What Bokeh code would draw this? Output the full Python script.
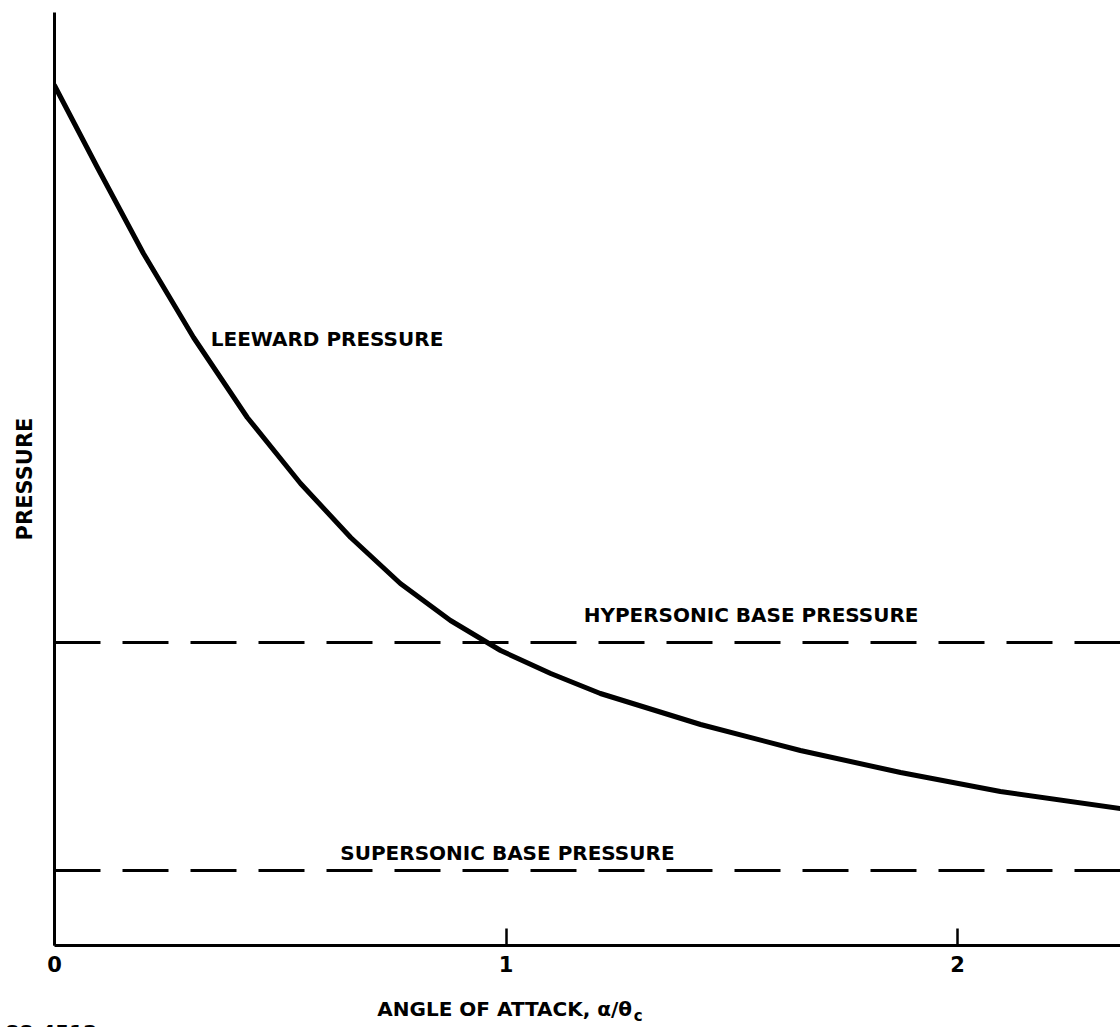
from bokeh.plotting import figure
from bokeh.layouts import column, row
from bokeh.models import Label, FixedTicker, Range1d, Span
from bokeh.embed import file_html
from bokeh.resources import INLINE

# Leeward pressure versus normalized angle of attack (alpha / theta_c)
alpha_ratio = [0.0, 0.095, 0.197, 0.308, 0.427, 0.545, 0.656, 0.766, 0.877,
               0.988, 1.099, 1.209, 1.431, 1.652, 1.874, 2.095, 2.361]
leeward_pressure = [8.60, 7.78, 6.92, 6.08, 5.28, 4.62, 4.08, 3.62, 3.25,
                    2.95, 2.72, 2.52, 2.21, 1.95, 1.73, 1.54, 1.37]

# Reference base-pressure levels
hypersonic_base = 3.03
supersonic_base = 0.75

x_ticks = [0, 1, 2]
x_tick_labels = {0: "0", 1: "1", 2: "2"}

FONT = "DejaVu Sans"
INK = "#000000"
X_END = 2.361
PX_PER_UNIT = 451.5
LEFT = 54

p = figure(width=1120, height=997, output_backend="svg", toolbar_location=None,
           x_range=Range1d(0, X_END), y_range=Range1d(0, 9.33),
           min_border_left=LEFT, min_border_right=0, min_border_top=12,
           min_border_bottom=52)
p.background_fill_color = "white"
p.border_fill_color = "white"
p.outline_line_color = None
p.grid.visible = False

# x axis: ticks pointing up into the plot, labels below
xa = p.xaxis[0]
xa.ticker = FixedTicker(ticks=x_ticks)
xa.major_label_overrides = x_tick_labels
xa.major_tick_in = 17
xa.major_tick_out = 0
xa.minor_tick_line_color = None
xa.axis_line_width = 3
xa.major_tick_line_width = 2.5
xa.axis_line_color = INK
xa.major_tick_line_color = INK
xa.major_label_text_font = FONT
xa.major_label_text_font_style = "bold"
xa.major_label_text_font_size = "21px"
xa.major_label_text_color = INK
xa.major_label_standoff = 10

# y axis: bare line with a rotated title
ya = p.yaxis[0]
ya.ticker = FixedTicker(ticks=[])
ya.major_tick_line_color = None
ya.minor_tick_line_color = None
ya.major_label_text_font_size = "0px"
ya.axis_line_width = 3
ya.axis_line_color = INK
ya.axis_label = "PRESSURE"
ya.axis_label_text_font = FONT
ya.axis_label_text_font_style = "bold"
ya.axis_label_text_font_size = "21px"
ya.axis_label_text_color = INK
ya.axis_label_standoff = 18

# Base pressure levels
for level in (hypersonic_base, supersonic_base):
    p.add_layout(Span(location=level, dimension="width", line_color=INK,
                      line_width=3, line_dash="46 22"))

# Leeward pressure curve
p.line(alpha_ratio, leeward_pressure, line_color=INK, line_width=5,
       line_join="round", line_cap="round")


def text(fig, x, y, s, size="20px"):
    fig.add_layout(Label(x=x, y=y, text=s, text_font=FONT, text_font_style="bold",
                         text_font_size=size, text_color=INK, text_align="left",
                         text_baseline="alphabetic"))


text(p, 0.346, 6.07, "LEEWARD PRESSURE")
text(p, 1.172, 3.31, "HYPERSONIC BASE PRESSURE")
text(p, 0.633, 0.93, "SUPERSONIC BASE PRESSURE")

# Footer strip (no axes) holding the x-axis title and the figure number;
# its frame spans the full width and shares the plot's horizontal scale
foot = figure(width=1120, height=30, output_backend="svg", toolbar_location=None,
              x_axis_type=None, y_axis_type=None,
              x_range=Range1d(-LEFT / PX_PER_UNIT, X_END), y_range=Range1d(0, 30),
              min_border=0, min_border_left=0, min_border_right=0,
              min_border_top=0, min_border_bottom=0)
foot.grid.visible = False
foot.outline_line_color = None
foot.background_fill_color = "white"
foot.border_fill_color = "white"

text(foot, 0.715, 19, "ANGLE OF ATTACK, α/θ")
text(foot, 1.283, 12, "c", size="15px")
text(foot, -0.109, -4, "88-4512")

layout = column(p, row(foot, spacing=0), spacing=0)
open("out.html", "w").write(file_html(layout, INLINE))
